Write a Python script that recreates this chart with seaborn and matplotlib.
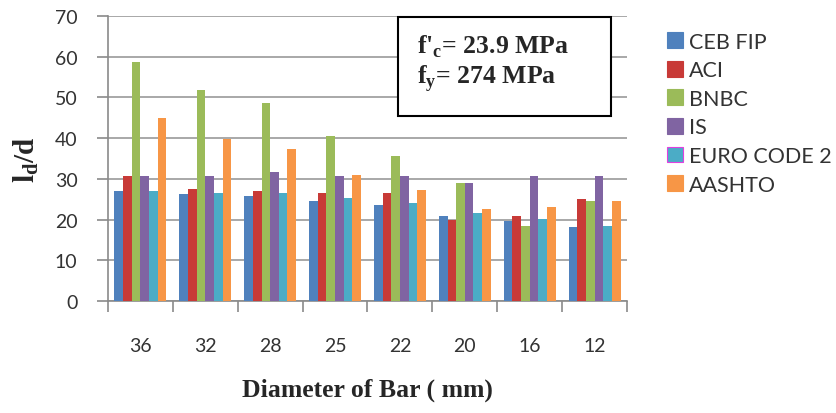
import numpy as np
import pandas as pd
import seaborn as sns
import matplotlib.pyplot as plt
from matplotlib.patches import Rectangle

# bar diameters (mm) and design codes
diameters = ['36', '32', '28', '25', '22', '20', '16', '12']
codes = ['CEB FIP', 'ACI', 'BNBC', 'IS', 'EURO CODE 2', 'AASHTO']

# ld/d values
ceb_fip = [27.1, 26.2, 25.9, 24.6, 23.7, 20.9, 19.7, 18.1]
aci = [30.7, 27.5, 27.0, 26.5, 26.5, 20.0, 20.9, 25.0]
bnbc = [58.7, 51.9, 48.7, 40.5, 35.5, 29.1, 18.4, 24.6]
is_code = [30.7, 30.7, 31.7, 30.7, 30.7, 29.1, 30.7, 30.6]
euro_code_2 = [27.0, 26.5, 26.5, 25.2, 24.0, 21.5, 20.1, 18.3]
aashto = [45.0, 39.8, 37.3, 31.0, 27.2, 22.5, 23.2, 24.6]

colors = ['#4F81BD', '#C83A37', '#9BBB59', '#8064A2', '#4BACC6', '#F79646']

series = [ceb_fip, aci, bnbc, is_code, euro_code_2, aashto]
df = pd.DataFrame({
    'diameter': np.tile(diameters, len(codes)),
    'code': np.repeat(codes, len(diameters)),
    'ld': np.concatenate(series),
})

sns.set_style('white')
plt.rcParams['font.family'] = ['Lato', 'DejaVu Sans']
plt.rcParams['mathtext.fontset'] = 'custom'
plt.rcParams['mathtext.rm'] = 'Liberation Serif:bold'
plt.rcParams['mathtext.bf'] = 'Liberation Serif:bold'

fig = plt.figure(figsize=(8.37, 4.14), dpi=100)
ax = fig.add_axes([108 / 837, 112 / 414, 519 / 837, 285 / 414])

sns.barplot(data=df, x='diameter', y='ld', hue='code', order=diameters,
            hue_order=codes, palette=colors, width=0.8, saturation=1,
            linewidth=0, ax=ax, legend=False, zorder=3)

ax.set_ylim(0, 70)
ax.set_xlim(-0.5, 7.5)
ax.set_yticks(range(0, 71, 10))
ax.grid(axis='y', color='#9A9A9A', linewidth=1.2, zorder=0)
ax.set_axisbelow(True)
for s in ['top', 'right']:
    ax.spines[s].set_visible(False)
for s in ['left', 'bottom']:
    ax.spines[s].set_color('#8A8A8A')
    ax.spines[s].set_linewidth(1.2)

# category labels at group centres, tick marks between groups
ax.set_xticks(np.arange(-0.5, 8, 1), minor=True)
ax.tick_params(axis='x', which='major', bottom=True, length=0, pad=26, labelsize=14,
               colors='#333333')
ax.tick_params(axis='x', which='minor', bottom=True, length=8, width=1.2,
               color='#8A8A8A', direction='out')
ax.tick_params(axis='y', left=True, length=8, width=1.2, color='#8A8A8A', direction='out',
               pad=14, labelsize=14, labelcolor='#333333')

ax.set_xlabel('Diameter of Bar ( mm)', family='Liberation Serif', fontweight='bold',
              fontsize=18.5, labelpad=17)
ax.set_ylabel(r'l$_{\mathbf{d}}$/d', family='Liberation Serif', fontweight='bold',
              fontsize=21, labelpad=10)

# material properties box
fig.add_artist(Rectangle((398 / 837, 297 / 414), 213 / 837, 99 / 414,
                         transform=fig.transFigure, facecolor='white',
                         edgecolor='black', linewidth=1.5, zorder=5))
fig.text(417 / 837, 1 - 54 / 414, r"f'$_{\mathbf{c}}$= 23.9 MPa", family='Liberation Serif',
         fontweight='bold', fontsize=18.5, va='baseline', zorder=6)
fig.text(417 / 837, 1 - 83 / 414, r"f$_{\mathbf{y}}$= 274 MPa", family='Liberation Serif',
         fontweight='bold', fontsize=18.5, va='baseline', zorder=6)

# legend
handles = [Rectangle((0, 0), 1, 1, facecolor=c,
                     edgecolor=('#E040E0' if n == 'EURO CODE 2' else c), linewidth=0.8)
           for c, n in zip(colors, codes)]
fig.legend(handles, codes, loc='upper left', bbox_to_anchor=(658 / 837, 1 - 24 / 414),
           frameon=False, fontsize=15.5, handlelength=0.75, handleheight=0.75,
           handletextpad=0.3, labelspacing=0.4, borderaxespad=0, labelcolor='#333333')

fig.savefig('out.png', dpi=100)
